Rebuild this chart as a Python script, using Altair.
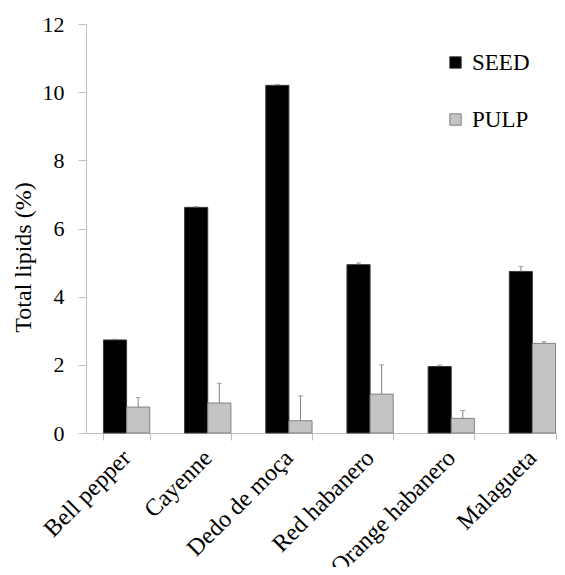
import altair as alt
import pandas as pd

peppers = ["Bell pepper", "Cayenne", "Dedo de moça", "Red habanero", "Orange habanero", "Malagueta"]
parts = ["SEED", "PULP"]
seed = [2.73, 6.62, 10.20, 4.94, 1.95, 4.74]
seed_err = [0.02, 0.02, 0.03, 0.05, 0.04, 0.15]
pulp = [0.76, 0.88, 0.36, 1.14, 0.43, 2.63]
pulp_err = [0.28, 0.58, 0.73, 0.86, 0.23, 0.05]
y_ticks = [0, 2, 4, 6, 8, 10, 12]

rows = []
for i, p in enumerate(peppers):
    rows.append({"pepper": p, "part": "SEED", "value": seed[i], "top": seed[i] + seed_err[i]})
    rows.append({"pepper": p, "part": "PULP", "value": pulp[i], "top": pulp[i] + pulp_err[i]})
df = pd.DataFrame(rows)

FONT = "Liberation Serif"

x = alt.X(
    "pepper:N", sort=peppers, title=None,
    scale=alt.Scale(paddingInner=0.43, paddingOuter=0.215),
    axis=alt.Axis(labelAngle=-45, labelAlign="right", labelBaseline="middle",
                  labelFontSize=24, labelFont=FONT, labelColor="black",
                  labelPadding=14, tickBand="extent", tickSize=7,
                  tickColor="#bfbfbf", domainColor="#bfbfbf", labelOffset=0),
)
xo = alt.XOffset("part:N", sort=parts, scale=alt.Scale(paddingInner=0, paddingOuter=0))

bars = alt.Chart(df).mark_bar(strokeWidth=1).encode(
    x=x,
    xOffset=xo,
    y=alt.Y("value:Q", scale=alt.Scale(domain=[0, 12], nice=False),
            title="Total  lipids (%)",
            axis=alt.Axis(values=y_ticks, grid=False, tickSize=8, tickColor="#bfbfbf",
                          domainColor="#bfbfbf", labelFontSize=22, labelFont=FONT,
                          labelColor="black", labelPadding=14,
                          titleFont=FONT, titleFontSize=24, titleFontWeight="normal",
                          titleColor="black", titleBaseline="middle",
                          titleX=-63, titleY=233)),
    fill=alt.Fill("part:N", sort=parts,
                  scale=alt.Scale(domain=parts, range=["#000000", "#c4c4c4"]),
                  legend=alt.Legend(title=None, orient="none", legendX=358, legendY=27,
                                    symbolType="square", symbolSize=130,
                                    labelFont=FONT, labelFontSize=23, labelColor="black",
                                    rowPadding=33, labelOffset=5,
                                    symbolStrokeWidth=1)),
    stroke=alt.Stroke("part:N", sort=parts,
                      scale=alt.Scale(domain=parts, range=["#3a3a3a", "#808080"]),
                      legend=None),
)

err = alt.Chart(df).mark_rule(color="#808080", strokeWidth=1).encode(
    x=x, xOffset=xo, y="value:Q", y2="top:Q"
)
caps = alt.Chart(df).mark_tick(color="#808080", size=5, thickness=1).encode(
    x=x, xOffset=xo, y="top:Q"
)

chart = alt.layer(bars, err, caps).properties(
    width=487, height=409,
    padding={"left": 78, "top": 16, "right": -16, "bottom": 134},
    autosize=alt.AutoSizeParams(type="none"),
).configure_view(stroke=None)

chart.save("out.html", embed_options={"renderer": "svg", "actions": False})
